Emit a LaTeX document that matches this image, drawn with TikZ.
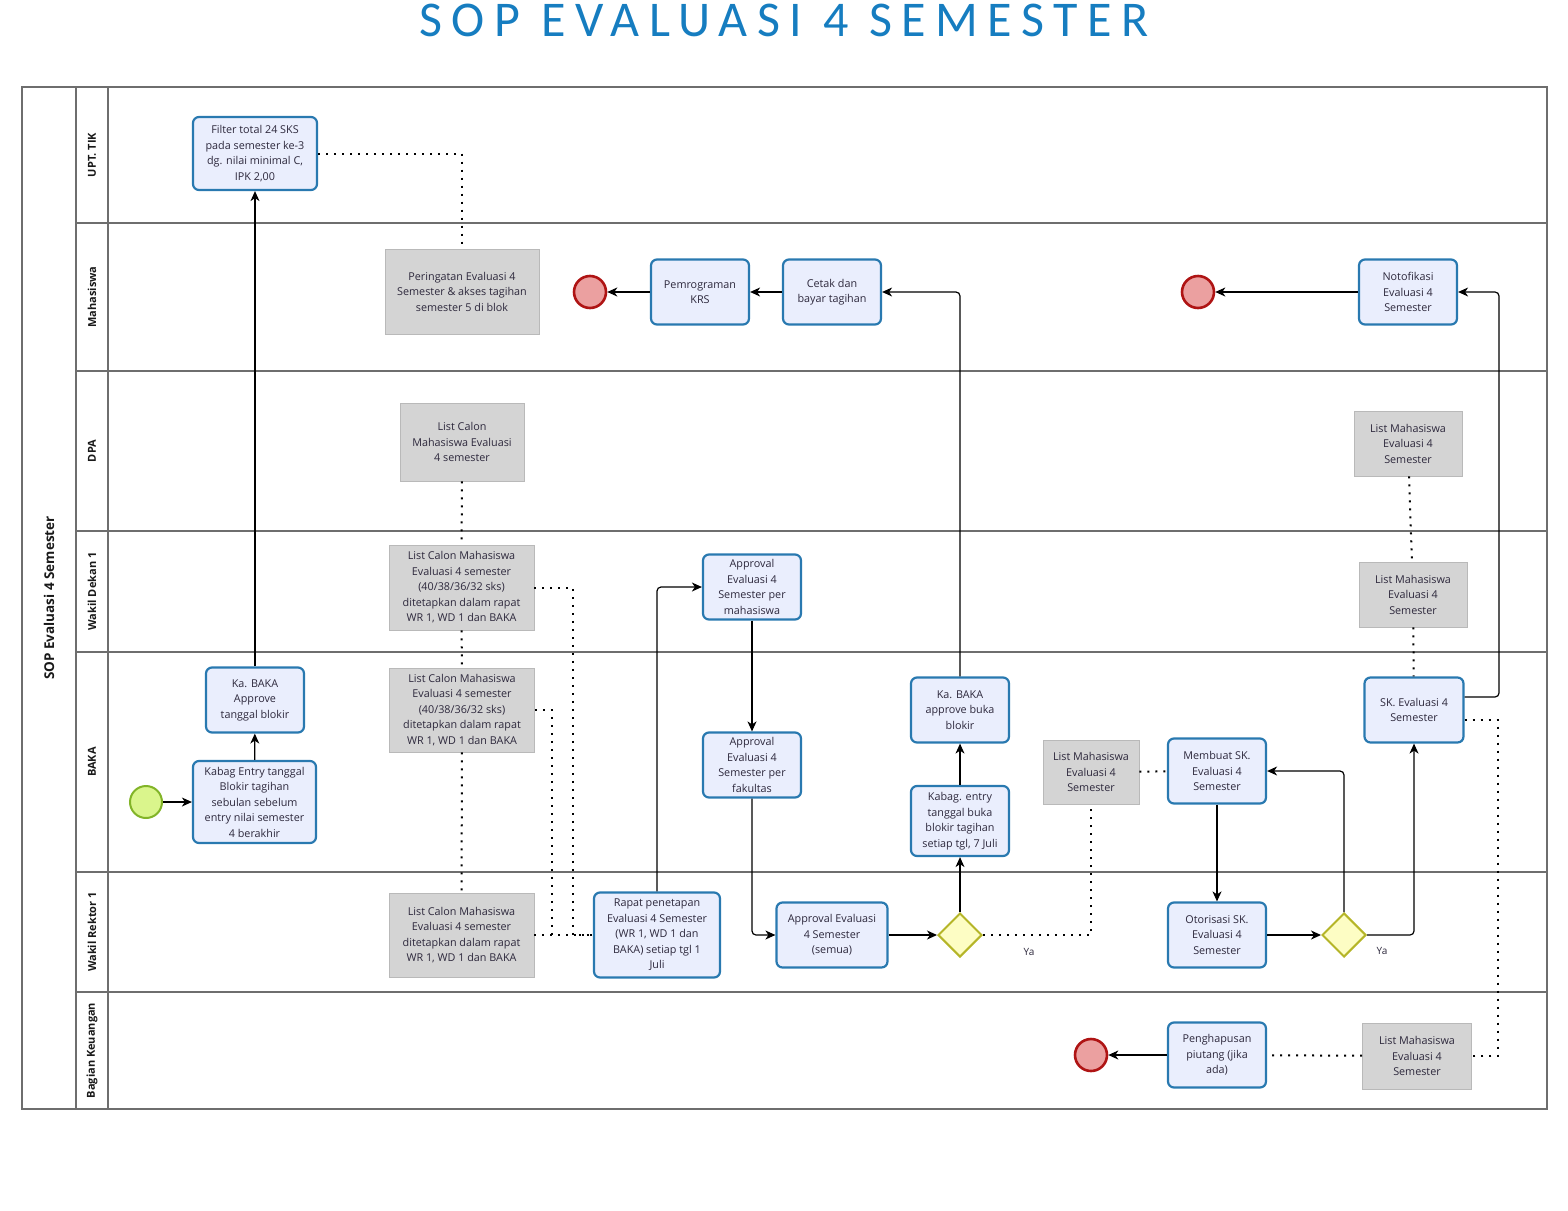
\documentclass[tikz,border=0pt]{standalone}
\usepackage{fontspec}
\setmainfont{Open Sans}
\newfontfamily\titlefont[LetterSpace=19]{Carlito}
\usetikzlibrary{arrows.meta,shapes.geometric}
\definecolor{taskblue}{RGB}{41,121,176}
\definecolor{taskfill}{RGB}{234,238,253}
\definecolor{datagray}{RGB}{212,212,212}
\definecolor{gateline}{RGB}{181,181,40}
\definecolor{gatefill}{RGB}{253,253,196}
\definecolor{startline}{RGB}{130,180,40}
\definecolor{startfill}{RGB}{218,245,140}
\definecolor{endline}{RGB}{175,20,20}
\definecolor{endfill}{RGB}{235,160,160}
\definecolor{laneline}{RGB}{110,110,110}
\definecolor{titleblue}{RGB}{22,125,192}
\definecolor{inktext}{RGB}{45,40,60}
\begin{document}
\begin{tikzpicture}[x=1pt, y=-1pt,
    >={Stealth[length=10pt, width=9pt, inset=3pt]},
    boxtext/.style={align=center, text=inktext, inner sep=1pt, font=\fontsize{10.8}{15.5}\selectfont},
    task/.style={boxtext, draw=taskblue, fill=taskfill, line width=2.2pt, rounded corners=6pt, minimum width=98pt, minimum height=65pt},
    data/.style={boxtext, draw=gray!55, fill=datagray, line width=0.8pt},
    gate/.style={diamond, draw=gateline, fill=gatefill, line width=2pt, minimum size=44pt, inner sep=0pt},
    startev/.style={circle, draw=startline, fill=startfill, line width=2pt, minimum size=32pt, inner sep=0pt},
    endev/.style={circle, draw=endline, fill=endfill, line width=2.6pt, minimum size=32pt, inner sep=0pt},
    lanetext/.style={rotate=90, font=\bfseries\fontsize{11}{12}\selectfont, text=black!90},
    flow/.style={->, line width=1.2pt, rounded corners=4pt},
    assoc/.style={line width=2pt, dash pattern=on 2pt off 6pt}]
    \useasboundingbox (0,0) rectangle (1568,1210);
    \node[anchor=base, text=titleblue, font=\titlefont\fontsize{50}{50}\selectfont] (title) at (784,36) {SOP EVALUASI 4 SEMESTER};

    \draw[laneline, line width=1.5pt] (22,87) rectangle (1547,1109);
    \draw[laneline, line width=1.5pt] (76,87) -- (76,1109);
    \draw[laneline, line width=1.5pt] (108,87) -- (108,1109);
    \draw[laneline, line width=1.5pt] (76,223) -- (1547,223);
    \draw[laneline, line width=1.5pt] (76,371) -- (1547,371);
    \draw[laneline, line width=1.5pt] (76,531) -- (1547,531);
    \draw[laneline, line width=1.5pt] (76,652) -- (1547,652);
    \draw[laneline, line width=1.5pt] (76,872) -- (1547,872);
    \draw[laneline, line width=1.5pt] (76,992) -- (1547,992);
    \node[lanetext, font=\bfseries\fontsize{13.5}{15}\selectfont] (pool) at (49,598) {SOP Evaluasi 4 Semester};
    \node[lanetext] (laneTik) at (92,155) {UPT. TIK};
    \node[lanetext] (laneMhs) at (92,297) {Mahasiswa};
    \node[lanetext] (laneDpa) at (92,451) {DPA};
    \node[lanetext] (laneWd) at (92,591.5) {Wakil Dekan 1};
    \node[lanetext] (laneBaka) at (92,762) {BAKA};
    \node[lanetext] (laneWr) at (92,932) {Wakil Rektor 1};
    \node[lanetext] (laneKeu) at (92,1050.5) {Bagian Keuangan};

    \node[task, minimum width=124pt, minimum height=73pt] (filter) at (255,153.5) {Filter total 24 SKS\\pada semester ke-3\\dg. nilai minimal C,\\IPK 2,00};
    \node[task] (kaApprove) at (255,700) {Ka. BAKA\\Approve\\tanggal blokir};
    \node[task, minimum width=123pt, minimum height=82pt] (kabagEntry) at (254.5,802) {Kabag Entry tanggal\\Blokir tagihan\\sebulan sebelum\\entry nilai semester\\4 berakhir};
    \node[startev] (start) at (146,802) {};
    \node[task] (krs) at (700,292) {Pemrograman\\KRS};
    \node[task] (cetak) at (832,292) {Cetak dan\\bayar tagihan};
    \node[endev] (endKrs) at (590,292) {};
    \node[task] (notif) at (1408,292) {Notofikasi\\Evaluasi 4\\Semester};
    \node[endev] (endNotif) at (1198,292) {};
    \node[task] (apprMhs) at (752,587) {Approval\\Evaluasi 4\\Semester per\\mahasiswa};
    \node[task] (apprFak) at (752,765) {Approval\\Evaluasi 4\\Semester per\\fakultas};
    \node[task] (kaBuka) at (960,710) {Ka. BAKA\\approve buka\\blokir};
    \node[task, minimum height=70pt] (kabagBuka) at (960,821) {Kabag. entry\\tanggal buka\\blokir tagihan\\setiap tgl, 7 Juli};
    \node[task, minimum width=126pt, minimum height=85pt] (rapat) at (657,935) {Rapat penetapan\\Evaluasi 4 Semester\\(WR 1, WD 1 dan\\BAKA) setiap tgl 1\\Juli};
    \node[task, minimum width=111pt] (apprAll) at (832,935) {Approval Evaluasi\\4 Semester\\(semua)};
    \node[gate] (gateAll) at (960,935) {};
    \node[task] (buatSk) at (1217,771) {Membuat SK.\\Evaluasi 4\\Semester};
    \node[task] (otorSk) at (1217,935) {Otorisasi SK.\\Evaluasi 4\\Semester};
    \node[gate] (gateSk) at (1344,935) {};
    \node[task, minimum width=99pt] (skEval) at (1414,710) {SK. Evaluasi 4\\Semester};
    \node[task] (hapus) at (1217,1055) {Penghapusan\\piutang (jika\\ada)};
    \node[endev] (endHapus) at (1091,1055) {};

    \node[data, minimum width=154pt, minimum height=85pt] (warn) at (462,291.5) {Peringatan Evaluasi 4\\Semester \& akses tagihan\\semester 5 di blok};
    \node[data, minimum width=124pt, minimum height=78pt] (calonDpa) at (462,442) {List Calon\\Mahasiswa Evaluasi\\4 semester};
    \node[data, minimum width=145pt, minimum height=85pt] (calonWd) at (461.5,587.5) {List Calon Mahasiswa\\Evaluasi 4 semester\\(40/38/36/32 sks)\\ditetapkan dalam rapat\\WR 1, WD 1 dan BAKA};
    \node[data, minimum width=145pt, minimum height=84pt] (calonBaka) at (462,710) {List Calon Mahasiswa\\Evaluasi 4 semester\\(40/38/36/32 sks)\\ditetapkan dalam rapat\\WR 1, WD 1 dan BAKA};
    \node[data, minimum width=145pt, minimum height=84pt] (calonWr) at (461.5,935) {List Calon Mahasiswa\\Evaluasi 4 semester\\ditetapkan dalam rapat\\WR 1, WD 1 dan BAKA};
    \node[data, minimum width=108pt, minimum height=65pt] (listDpa) at (1408,443.5) {List Mahasiswa\\Evaluasi 4\\Semester};
    \node[data, minimum width=108pt, minimum height=65pt] (listWd) at (1413,594.5) {List Mahasiswa\\Evaluasi 4\\Semester};
    \node[data, minimum width=96pt, minimum height=64pt] (listBaka) at (1091,772) {List Mahasiswa\\Evaluasi 4\\Semester};
    \node[data, minimum width=109pt, minimum height=66pt] (listKeu) at (1417,1056) {List Mahasiswa\\Evaluasi 4\\Semester};

    \node[font=\fontsize{10}{11}\selectfont, text=inktext] (yaAll) at (1029,952) {Ya};
    \node[font=\fontsize{10}{11}\selectfont, text=inktext] (yaSk) at (1382,951) {Ya};
    \coordinate (wdJoin) at (573,935);
    \coordinate (bakaJoin) at (552,935);
    \coordinate (railN) at (1499,500);
    \coordinate (railS) at (1498,900);

    \draw[flow] (start) -- (kabagEntry);
    \draw[flow] (kabagEntry) -- (kaApprove);
    \draw[flow] (kaApprove) -- (filter);
    \draw[flow] (cetak) -- (krs);
    \draw[flow] (krs) -- (endKrs);
    \draw[flow] (kaBuka.north) |- (cetak.east);
    \draw[flow] (kabagBuka) -- (kaBuka);
    \draw[flow] (gateAll) -- (kabagBuka);
    \draw[flow] (rapat.north) |- (apprMhs.west);
    \draw[flow] (apprMhs) -- (apprFak);
    \draw[flow] (apprFak.south) |- (apprAll.west);
    \draw[flow] (apprAll) -- (gateAll);
    \draw[flow] (buatSk) -- (otorSk);
    \draw[flow] (otorSk) -- (gateSk);
    \draw[flow] (gateSk.north) |- (buatSk.east);
    \draw[flow] (gateSk.east) -| (skEval.south);
    \draw[flow] ([yshift=13pt]skEval.east) -| (railN) |- (notif.east);
    \draw[flow] (notif) -- (endNotif);
    \draw[flow] (hapus) -- (endHapus);

    \draw[assoc] (filter.east) -| (warn.north);
    \draw[assoc] (calonDpa) -- (calonWd);
    \draw[assoc] (calonWd) -- (calonBaka);
    \draw[assoc] (calonBaka) -- (calonWr);
    \draw[assoc] (calonWd.east) -| (wdJoin) -- (rapat.west);
    \draw[assoc] (calonBaka.east) -| (bakaJoin);
    \draw[assoc] (calonWr) -- (rapat);
    \draw[assoc] (gateAll.east) -| (listBaka.south);
    \draw[assoc] (listBaka) -- (buatSk);
    \draw[assoc] (listDpa) -- (listWd);
    \draw[assoc] (listWd) -- (skEval);
    \draw[assoc] ([yshift=-10pt]skEval.east) -| (railS) |- (listKeu.east);
    \draw[assoc] (listKeu) -- (hapus);
\end{tikzpicture}
\end{document}
